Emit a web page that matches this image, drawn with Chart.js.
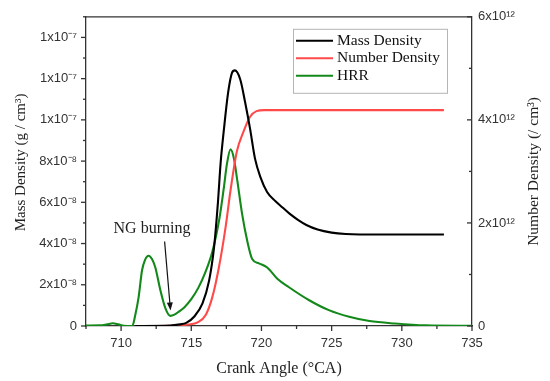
<!DOCTYPE html>
<html lang="en">
<head>
<meta charset="UTF-8">
<title>Mass density, number density and HRR vs crank angle</title>
<script src="https://cdn.jsdelivr.net/npm/chart.js@4.4.1/dist/chart.umd.min.js"></script>
<style>
  body { margin: 0; background: #ffffff; }
</style>
</head>
<body>
<canvas id="chart" width="550" height="381"></canvas>
<script>
// Mass density (x1e-8 g/cm3) vs crank angle
const massAngle   = [711.0, 713.5, 714.2, 714.64, 715.2, 715.8, 716.27, 716.62, 716.9, 717.09, 717.32, 717.62, 717.9, 718.1, 718.49, 718.84, 719.19, 719.54, 719.94, 720.4, 721.0, 721.5, 722.0, 722.6, 723.2, 724.0, 725.0, 726.0, 727.0, 733.0];
const massDensity = [0, 0.02, 0.08, 0.15, 0.45, 1.1, 2.2, 3.8, 6.0, 7.9, 9.5, 11.3, 12.28, 12.4, 11.96, 10.84, 9.56, 8.12, 7.2, 6.5, 6.05, 5.75, 5.45, 5.15, 4.9, 4.68, 4.53, 4.46, 4.44, 4.44];

// Number density (x1e12 /cm3) vs crank angle
const numAngle   = [711.0, 714.0, 714.8, 715.45, 716.04, 716.5, 716.97, 717.44, 717.79, 718.25, 718.72, 719.19, 719.65, 720.2, 733.0];
const numDensity = [0, 0.01, 0.03, 0.07, 0.22, 0.56, 1.14, 1.91, 2.62, 3.39, 3.77, 4.06, 4.17, 4.19, 4.19];

// HRR (arbitrary units, drawn on a hidden axis) vs crank angle
const hrrAngle = [707.5, 708.5, 709.0, 709.4, 709.8, 710.2, 710.8, 711.0, 711.25, 711.49, 711.7, 711.96, 712.2, 712.44, 712.8, 713.16, 713.5, 713.8, 714.1, 714.5, 715.0, 715.5, 716.0, 716.5, 717.0, 717.3, 717.55, 717.8, 718.04, 718.27, 718.63, 718.99, 719.34, 719.82, 720.41, 721.13, 721.96, 723.4, 724.8, 726.25, 727.7, 729.5, 731.7, 735.0];
const hrr      = [0.02, 0.03, 0.08, 0.13, 0.08, 0.01, 0, 0.5, 1.4, 2.69, 3.2, 3.41, 3.25, 2.84, 1.73, 0.85, 0.49, 0.55, 0.69, 0.9, 1.3, 1.85, 2.6, 3.6, 5.2, 6.6, 7.9, 8.57, 8.12, 7.1, 5.4, 4.12, 3.25, 3.04, 2.84, 2.29, 1.88, 1.25, 0.77, 0.45, 0.24, 0.12, 0.03, 0.01];

const seriesNames = ['Mass Density', 'Number Density', 'HRR'];
const seriesColors = ['#000000', '#ff4a4a', '#13891a'];

// annotation: label position and arrow (crank angle, HRR units)
const noteText = 'NG burning';
const notePos = [712.2, 4.7];
const arrowFrom = [713.1, 4.1];
const arrowTo = [713.52, 0.75];

const axisColor = '#333333';
const serif = '"Liberation Serif", "Times New Roman", serif';
const sans = '"Liberation Sans", Arial, sans-serif';

function pts(xs, ys) {
  return xs.map((x, i) => ({ x: x, y: ys[i] }));
}

function line(ctx, x1, y1, x2, y2) {
  ctx.beginPath();
  ctx.moveTo(x1, y1);
  ctx.lineTo(x2, y2);
  ctx.stroke();
}

const decor = {
  id: 'decor',
  afterDraw(chart) {
    const { ctx, chartArea: a, scales } = chart;
    ctx.save();
    ctx.strokeStyle = axisColor;
    ctx.lineWidth = 1.3;
    // top frame
    line(ctx, a.left, a.top, a.right, a.top);

    // tick marks, majors longer
    scales.x.ticks.forEach(t => {
      const px = scales.x.getPixelForValue(t.value);
      const len = t.value % 5 === 0 ? 5 : 3;
      line(ctx, px, a.bottom, px, a.bottom + len);
    });
    scales.y.ticks.forEach(t => {
      const py = scales.y.getPixelForValue(t.value);
      const len = t.value % 2 === 0 ? 5 : 3;
      line(ctx, a.left - len, py, a.left, py);
    });
    scales.y2.ticks.forEach(t => {
      const py = scales.y2.getPixelForValue(t.value);
      const len = t.value % 2 === 0 ? 5 : 3;
      line(ctx, a.right - len, py, a.right, py);
    });

    // NG burning label + arrow
    const h = scales.yHRR;
    ctx.fillStyle = '#222';
    ctx.font = '16px ' + serif;
    ctx.textAlign = 'center';
    ctx.textBaseline = 'middle';
    ctx.fillText(noteText, scales.x.getPixelForValue(notePos[0]), h.getPixelForValue(notePos[1]));
    const x1 = scales.x.getPixelForValue(arrowFrom[0]), y1 = h.getPixelForValue(arrowFrom[1]);
    const x2 = scales.x.getPixelForValue(arrowTo[0]), y2 = h.getPixelForValue(arrowTo[1]);
    const ang = Math.atan2(y2 - y1, x2 - x1);
    ctx.strokeStyle = '#111';
    ctx.lineWidth = 1.2;
    line(ctx, x1, y1, x2 - 6 * Math.cos(ang), y2 - 6 * Math.sin(ang));
    ctx.fillStyle = '#111';
    ctx.beginPath();
    ctx.moveTo(x2, y2);
    ctx.lineTo(x2 - 8 * Math.cos(ang) + 3 * Math.sin(ang), y2 - 8 * Math.sin(ang) - 3 * Math.cos(ang));
    ctx.lineTo(x2 - 8 * Math.cos(ang) - 3 * Math.sin(ang), y2 - 8 * Math.sin(ang) + 3 * Math.cos(ang));
    ctx.closePath();
    ctx.fill();

    // legend box inside the plot
    const lx = a.left + 207, ly = a.top + 12;
    ctx.strokeStyle = '#b5b5b5';
    ctx.lineWidth = 1;
    ctx.strokeRect(lx + 0.5, ly + 0.5, 154, 64);
    ctx.font = '15.5px ' + serif;
    ctx.textAlign = 'left';
    ctx.textBaseline = 'middle';
    chart.data.datasets.forEach((ds, i) => {
      const ry = ly + 12 + i * 17.5;
      ctx.strokeStyle = ds.borderColor;
      ctx.lineWidth = 2;
      line(ctx, lx + 3, ry, lx + 40, ry);
      ctx.fillStyle = '#111';
      ctx.fillText(ds.label, lx + 44, ry);
    });

    // y axis titles (both read bottom to top)
    ctx.fillStyle = '#222';
    ctx.textAlign = 'center';
    ctx.save();
    ctx.font = '15px ' + serif;
    ctx.translate(21, (a.top + a.bottom) / 2 - 9);
    ctx.rotate(-Math.PI / 2);
    ctx.fillText('Mass Density (g / cm³)', 0, 0);
    ctx.restore();
    ctx.save();
    ctx.font = '15.5px ' + serif;
    ctx.translate(534, (a.top + a.bottom) / 2);
    ctx.rotate(-Math.PI / 2);
    ctx.fillText('Number Density (/ cm³)', 0, 0);
    ctx.restore();

    ctx.restore();
  }
};

new Chart(document.getElementById('chart'), {
  type: 'line',
  data: {
    datasets: [
      { label: seriesNames[0], data: pts(massAngle, massDensity), borderColor: seriesColors[0], yAxisID: 'y' },
      { label: seriesNames[1], data: pts(numAngle, numDensity), borderColor: seriesColors[1], yAxisID: 'y2' },
      { label: seriesNames[2], data: pts(hrrAngle, hrr), borderColor: seriesColors[2], yAxisID: 'yHRR' }
    ]
  },
  options: {
    responsive: false,
    animation: false,
    elements: {
      point: { radius: 0 },
      line: { borderWidth: 2.1, cubicInterpolationMode: 'monotone', fill: false }
    },
    layout: { padding: { top: 15, left: 0, right: 0, bottom: 0 } },
    plugins: { legend: { display: false }, tooltip: { enabled: false } },
    scales: {
      x: {
        type: 'linear',
        min: 707.5,
        max: 735,
        afterFit: s => { s.height = 55; },
        grid: { display: false, drawTicks: false },
        border: { display: true, color: axisColor, width: 1.3 },
        ticks: {
          stepSize: 2.5,
          padding: 10,
          color: '#333',
          font: { family: sans, size: 13 },
          maxRotation: 0,
          autoSkip: false,
          callback: v => (v % 5 === 0 ? String(v) : '')
        },
        title: {
          display: true,
          text: 'Crank Angle (°CA)',
          color: '#222',
          font: { family: serif, size: 16 },
          padding: { top: 0, bottom: 3 }
        }
      },
      y: {
        position: 'left',
        min: 0,
        max: 15,
        afterFit: s => { s.width = 86; },
        grid: { display: false, drawTicks: false },
        border: { display: true, color: axisColor, width: 1.3 },
        ticks: {
          stepSize: 1,
          padding: 9,
          color: '#333',
          font: { family: sans, size: 13 },
          autoSkip: false,
          callback: v => {
            if (v % 2 !== 0) return '';
            if (v === 0) return '0';
            if (v >= 10) return '1x10⁻⁷';
            return v + 'x10⁻⁸';
          }
        }
      },
      y2: {
        position: 'right',
        min: 0,
        max: 6,
        afterFit: s => { s.width = 78; },
        grid: { display: false, drawTicks: false },
        border: { display: true, color: axisColor, width: 1.3 },
        ticks: {
          stepSize: 1,
          padding: 6,
          color: '#333',
          font: { family: sans, size: 13 },
          autoSkip: false,
          callback: v => {
            if (v % 2 !== 0) return '';
            return v === 0 ? '0' : v + 'x10¹²';
          }
        }
      },
      yHRR: { display: false, min: 0, max: 15 }
    }
  },
  plugins: [decor]
});
</script>
</body>
</html>
